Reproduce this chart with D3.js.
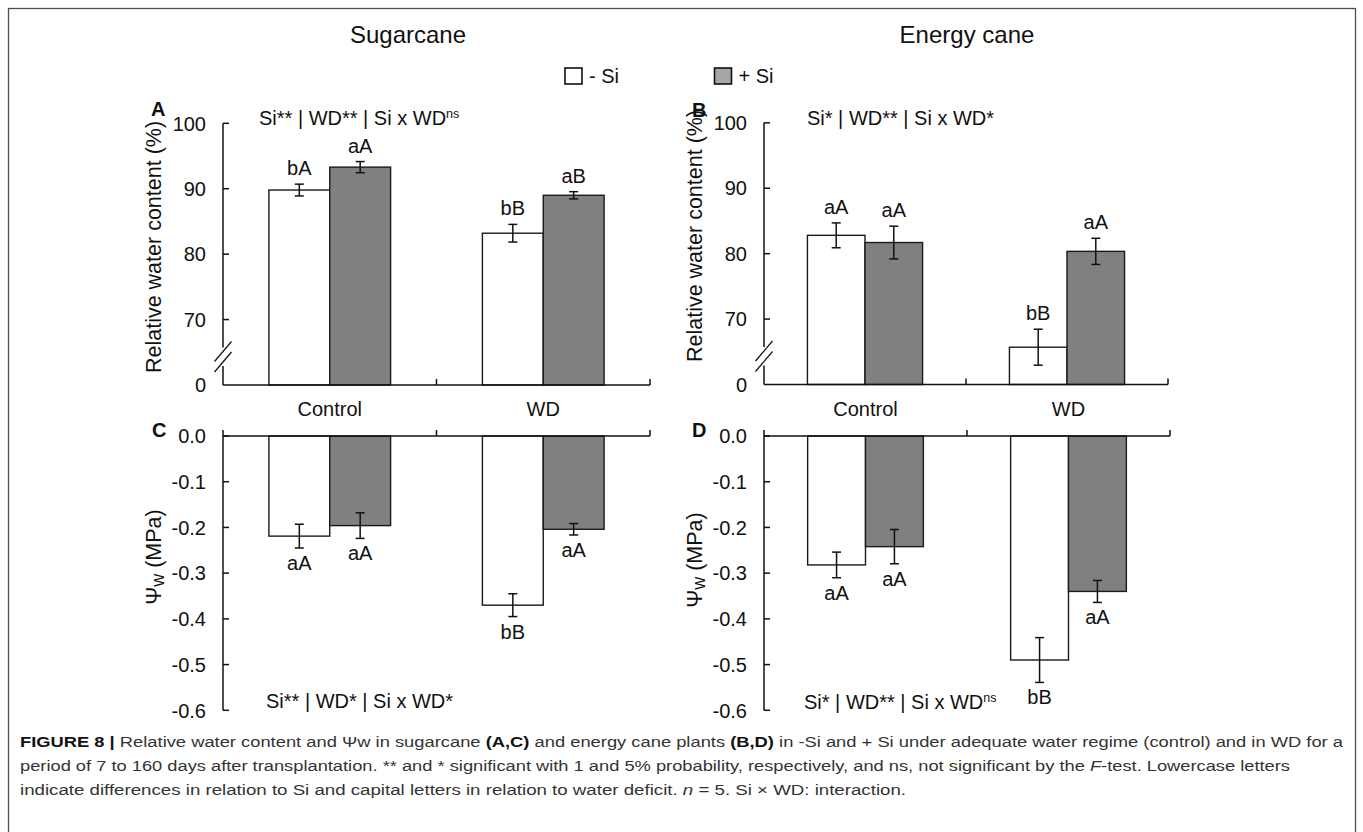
<!DOCTYPE html>
<html><head><meta charset="utf-8">
<script src="https://cdn.jsdelivr.net/npm/d3@7"></script>
<style>
html,body{margin:0;padding:0;background:#fff;}
svg{display:block;font-family:"Liberation Sans",Arial,Helvetica,sans-serif;}
</style></head>
<body>
<svg id="chart" width="1363" height="832"></svg>
<script>
// ---------------- data ----------------
const categories = ["Control", "WD"];
const treatments = ["- Si", "+ Si"];
const panelTitles = ["Sugarcane", "Energy cane"];

// Relative water content (%) – sugarcane (A)
const rwcSugarcaneNoSi = [89.8, 83.2];
const rwcSugarcaneSi = [93.3, 89.0];
const rwcSugarcaneNoSiErr = [0.9, 1.35];
const rwcSugarcaneSiErr = [0.85, 0.55];
const rwcSugarcaneNoSiLetters = ["bA", "bB"];
const rwcSugarcaneSiLetters = ["aA", "aB"];

// Relative water content (%) – energy cane (B)
const rwcEnergyNoSi = [82.8, 65.7];
const rwcEnergySi = [81.7, 80.35];
const rwcEnergyNoSiErr = [1.9, 2.75];
const rwcEnergySiErr = [2.5, 2.0];
const rwcEnergyNoSiLetters = ["aA", "bB"];
const rwcEnergySiLetters = ["aA", "aA"];

// Water potential (MPa) – sugarcane (C)
const psiSugarcaneNoSi = [-0.219, -0.370];
const psiSugarcaneSi = [-0.196, -0.204];
const psiSugarcaneNoSiErr = [0.026, 0.025];
const psiSugarcaneSiErr = [0.028, 0.0125];
const psiSugarcaneNoSiLetters = ["aA", "bB"];
const psiSugarcaneSiLetters = ["aA", "aA"];

// Water potential (MPa) – energy cane (D)
const psiEnergyNoSi = [-0.282, -0.490];
const psiEnergySi = [-0.242, -0.340];
const psiEnergyNoSiErr = [0.028, 0.049];
const psiEnergySiErr = [0.0375, 0.024];
const psiEnergyNoSiLetters = ["aA", "bB"];
const psiEnergySiLetters = ["aA", "aA"];

// axes (the RWC axis is broken: its bottom value is labelled "0")
const rwcDomain = [60, 100];
const rwcTicks = [60, 70, 80, 90, 100];
const rwcTickLabels = ["0", "70", "80", "90", "100"];
const psiDomain = [-0.6, 0];
const psiTicks = [0, -0.1, -0.2, -0.3, -0.4, -0.5, -0.6];
const psiTickLabels = ["0.0", "-0.1", "-0.2", "-0.3", "-0.4", "-0.5", "-0.6"];

// statistics
const statsA = ["Si** | WD** | Si x WD", "ns"];
const statsB = ["Si* | WD** | Si x WD*", ""];
const statsC = ["Si** | WD* | Si x WD*", ""];
const statsD = ["Si* | WD** | Si x WD", "ns"];

// ---------------- drawing ----------------
const svg = d3.select("#chart");
const FONT = 20;

// outer frame
svg.append("rect").attr("x", 8.5).attr("y", 8.5).attr("width", 1347).attr("height", 840)
  .attr("fill", "none").attr("stroke", "#4d4d4d").attr("stroke-width", 1.3);

function drawPanel(cfg) {
  const g = svg.append("g");
  const x = d3.scaleBand().domain(categories).range([cfg.x0, cfg.x1]);
  const y = d3.scaleLinear().domain(cfg.domain).range([cfg.yBottom, cfg.yTop]);
  const barW = x.bandwidth() * 0.285;
  const sub = d3.scaleBand().domain(treatments).range([-barW, barW]);
  const base = cfg.top ? cfg.domain[0] : 0;
  const rows = [];
  categories.forEach((c, i) => {
    rows.push({c, t: treatments[0], v: cfg.noSi[i], e: cfg.noSiErr[i], l: cfg.noSiLet[i]});
    rows.push({c, t: treatments[1], v: cfg.si[i], e: cfg.siErr[i], l: cfg.siLet[i]});
  });
  const cx = d => x(d.c) + x.bandwidth() / 2 + sub(d.t);

  // bars
  g.selectAll("rect.bar").data(rows).enter().append("rect")
    .attr("x", d => cx(d)).attr("width", barW)
    .attr("y", d => Math.min(y(d.v), y(base)))
    .attr("height", d => Math.abs(y(d.v) - y(base)))
    .attr("fill", d => d.t === treatments[0] ? "#ffffff" : "#808080")
    .attr("stroke", "#1a1a1a").attr("stroke-width", 1.4);

  // error bars
  const eg = g.selectAll("g.err").data(rows).enter().append("g")
    .attr("stroke", "#111").attr("stroke-width", 1.5);
  eg.append("line").attr("x1", d => cx(d) + barW / 2).attr("x2", d => cx(d) + barW / 2)
    .attr("y1", d => y(d.v - d.e)).attr("y2", d => y(d.v + d.e));
  eg.append("line").attr("x1", d => cx(d) + barW / 2 - 4.5).attr("x2", d => cx(d) + barW / 2 + 4.5)
    .attr("y1", d => y(d.v - d.e)).attr("y2", d => y(d.v - d.e));
  eg.append("line").attr("x1", d => cx(d) + barW / 2 - 4.5).attr("x2", d => cx(d) + barW / 2 + 4.5)
    .attr("y1", d => y(d.v + d.e)).attr("y2", d => y(d.v + d.e));

  // letters
  g.selectAll("text.let").data(rows).enter().append("text")
    .attr("x", d => cx(d) + barW / 2)
    .attr("y", d => cfg.top ? y(d.v + d.e) - 9 : y(d.v - d.e) + 22)
    .attr("text-anchor", "middle").attr("font-size", FONT).attr("fill", "#111")
    .text(d => d.l);

  // x axis line (at base for top, at 0 for bottom)
  const xAxisY = cfg.top ? y(base) : y(0);
  const axG = g.append("g").attr("stroke", "#111").attr("stroke-width", 1.5).attr("fill", "none");
  axG.append("line").attr("x1", cfg.x0).attr("x2", cfg.x1).attr("y1", xAxisY).attr("y2", xAxisY);
  const xt = cfg.top ? [x("WD"), cfg.x1] : [cfg.x0, x("WD"), cfg.x1];
  xt.forEach(t => axG.append("line").attr("x1", t).attr("x2", t).attr("y1", xAxisY).attr("y2", xAxisY - 6));

  // y axis
  if (cfg.top) {
    const b1 = cfg.yBottom - 23, b2 = cfg.yBottom - 33.5;
    axG.append("line").attr("x1", cfg.x0).attr("x2", cfg.x0).attr("y1", cfg.yTop).attr("y2", b2 - 4);
    axG.append("line").attr("x1", cfg.x0).attr("x2", cfg.x0).attr("y1", b1 + 4).attr("y2", cfg.yBottom);
    [b1, b2].forEach(b => axG.append("line")
      .attr("x1", cfg.x0 - 8.5).attr("y1", b + 10).attr("x2", cfg.x0 + 8.5).attr("y2", b - 10)
      .attr("stroke-width", 1.2));
  } else {
    axG.append("line").attr("x1", cfg.x0).attr("x2", cfg.x0).attr("y1", cfg.yTop).attr("y2", cfg.yBottom);
  }
  cfg.ticks.forEach((t, i) => {
    if (!(cfg.top && i === 0)) {
      axG.append("line").attr("x1", cfg.x0).attr("x2", cfg.x0 + 6).attr("y1", y(t)).attr("y2", y(t));
    }
    g.append("text").attr("x", cfg.x0 - 17).attr("y", y(t)).attr("dy", "0.36em")
      .attr("text-anchor", "end").attr("font-size", FONT).attr("fill", "#111")
      .text(cfg.tickLabels[i]);
  });

  // y label
  const yl = g.append("text").attr("transform", `translate(${cfg.x0 - 62},${cfg.ylabelY}) rotate(-90)`)
    .attr("text-anchor", "middle").attr("font-size", 21.5).attr("fill", "#111");
  if (cfg.top) {
    yl.text("Relative water content (%)");
  } else {
    yl.append("tspan").text("Ψ");
    yl.append("tspan").attr("font-size", 18).attr("dy", 3).text("w");
    yl.append("tspan").attr("dy", -3).text(" (MPa)");
  }

  // category labels (between panels)
  if (!cfg.top) {
    g.selectAll("text.cat").data(categories).enter().append("text")
      .attr("x", d => x(d) + x.bandwidth() / 2).attr("y", cfg.yTop - 20)
      .attr("text-anchor", "middle").attr("font-size", FONT).attr("fill", "#111").text(d => d);
  }

  // stats
  const st = g.append("text").attr("x", cfg.statsX).attr("y", cfg.statsY)
    .attr("font-size", FONT).attr("fill", "#111");
  st.append("tspan").text(cfg.stats[0]);
  if (cfg.stats[1]) st.append("tspan").attr("font-size", 12.5).attr("dy", -7).text(cfg.stats[1]);

  // panel letter
  g.append("text").attr("x", cfg.letterX).attr("y", cfg.letterY).attr("font-size", 20)
    .attr("font-weight", "bold").attr("fill", "#111").text(cfg.letter);
}

drawPanel({top: true, x0: 223, x1: 650, yTop: 123.3, yBottom: 385, domain: rwcDomain,
  ticks: rwcTicks, tickLabels: rwcTickLabels,
  noSi: rwcSugarcaneNoSi, si: rwcSugarcaneSi, noSiErr: rwcSugarcaneNoSiErr, siErr: rwcSugarcaneSiErr,
  noSiLet: rwcSugarcaneNoSiLetters, siLet: rwcSugarcaneSiLetters,
  ylabelY: 247, stats: statsA, statsX: 259, statsY: 125, letter: "A", letterX: 151, letterY: 116});

drawPanel({top: true, x0: 764, x1: 1168, yTop: 122.8, yBottom: 384.5, domain: rwcDomain,
  ticks: rwcTicks, tickLabels: rwcTickLabels,
  noSi: rwcEnergyNoSi, si: rwcEnergySi, noSiErr: rwcEnergyNoSiErr, siErr: rwcEnergySiErr,
  noSiLet: rwcEnergyNoSiLetters, siLet: rwcEnergySiLetters,
  ylabelY: 236, stats: statsB, statsX: 807, statsY: 125, letter: "B", letterX: 692, letterY: 117});

drawPanel({top: false, x0: 223, x1: 650, yTop: 436, yBottom: 710.3, domain: psiDomain,
  ticks: psiTicks, tickLabels: psiTickLabels,
  noSi: psiSugarcaneNoSi, si: psiSugarcaneSi, noSiErr: psiSugarcaneNoSiErr, siErr: psiSugarcaneSiErr,
  noSiLet: psiSugarcaneNoSiLetters, siLet: psiSugarcaneSiLetters,
  ylabelY: 557, stats: statsC, statsX: 266, statsY: 708, letter: "C", letterX: 152, letterY: 437});

drawPanel({top: false, x0: 764, x1: 1170, yTop: 436, yBottom: 710.3, domain: psiDomain,
  ticks: psiTicks, tickLabels: psiTickLabels,
  noSi: psiEnergyNoSi, si: psiEnergySi, noSiErr: psiEnergyNoSiErr, siErr: psiEnergySiErr,
  noSiLet: psiEnergyNoSiLetters, siLet: psiEnergySiLetters,
  ylabelY: 560, stats: statsD, statsX: 804, statsY: 709, letter: "D", letterX: 692, letterY: 437});

// titles
svg.append("text").attr("x", 408).attr("y", 43).attr("text-anchor", "middle")
  .attr("font-size", 24).attr("fill", "#111").text(panelTitles[0]);
svg.append("text").attr("x", 967).attr("y", 43).attr("text-anchor", "middle")
  .attr("font-size", 24).attr("fill", "#111").text(panelTitles[1]);

// legend
const legendX = [565, 714.5];
const legendFill = ["#ffffff", "#a6a6a6"];
treatments.forEach((t, i) => {
  svg.append("rect").attr("x", legendX[i]).attr("y", 68).attr("width", 17).attr("height", 16)
    .attr("fill", legendFill[i]).attr("stroke", "#111").attr("stroke-width", 1.6);
  svg.append("text").attr("x", legendX[i] + 24).attr("y", 83).attr("font-size", FONT)
    .attr("fill", "#111").text(t);
});

// caption
const cap = svg.append("g").attr("font-size", 15.5).attr("fill", "#333");
const l1 = cap.append("text").attr("x", 20).attr("y", 747).attr("textLength", 1323).attr("lengthAdjust", "spacingAndGlyphs");
l1.append("tspan").attr("font-weight", "bold").attr("fill", "#111").text("FIGURE 8 | ");
l1.append("tspan").text("Relative water content and Ψw in sugarcane ");
l1.append("tspan").attr("font-weight", "bold").attr("fill", "#111").text("(A,C)");
l1.append("tspan").text(" and energy cane plants ");
l1.append("tspan").attr("font-weight", "bold").attr("fill", "#111").text("(B,D)");
l1.append("tspan").text(" in -Si and + Si under adequate water regime (control) and in WD for a");
const l2 = cap.append("text").attr("x", 20).attr("y", 771).attr("textLength", 1270).attr("lengthAdjust", "spacingAndGlyphs");
l2.append("tspan").text("period of 7 to 160 days after transplantation. ** and * significant with 1 and 5% probability, respectively, and ns, not significant by the ");
l2.append("tspan").attr("font-style", "italic").text("F");
l2.append("tspan").text("-test. Lowercase letters");
const l3 = cap.append("text").attr("x", 20).attr("y", 795).attr("textLength", 886).attr("lengthAdjust", "spacingAndGlyphs");
l3.append("tspan").text("indicate differences in relation to Si and capital letters in relation to water deficit. ");
l3.append("tspan").attr("font-style", "italic").text("n");
l3.append("tspan").text(" = 5. Si × WD: interaction.");
</script>
</body></html>
